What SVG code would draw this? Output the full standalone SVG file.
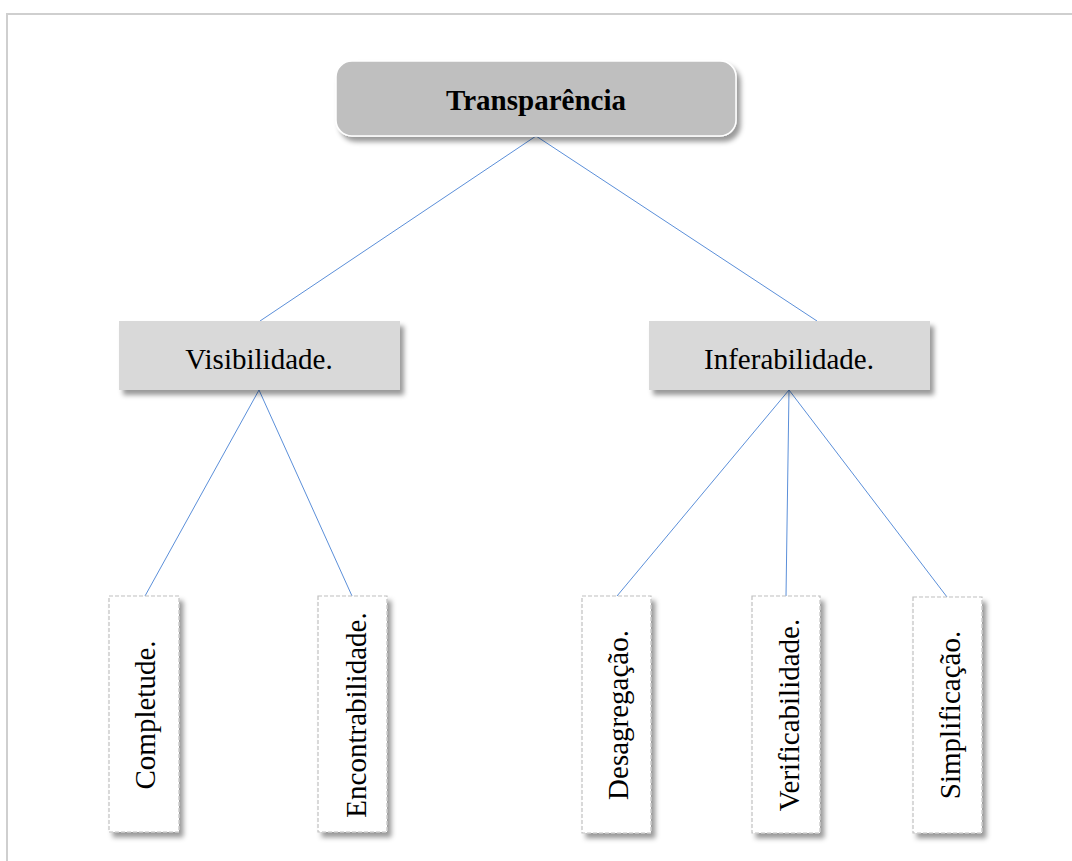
<svg xmlns="http://www.w3.org/2000/svg" width="1072" height="861" viewBox="0 0 1072 861">
<defs>
<filter id="sh" x="-20%" y="-20%" width="140%" height="140%">
<feDropShadow dx="4" dy="5" stdDeviation="2.5" flood-color="#000" flood-opacity="0.4"/>
</filter>
<style>
.t{font-family:"Liberation Serif","Times New Roman",serif;font-size:29px;fill:#000;text-anchor:middle}
.b{font-weight:bold}
.mid{fill:#d9d9d9;filter:url(#sh)}
.leaf{fill:#fff;stroke:#c0c0c0;stroke-width:1.2;stroke-dasharray:4 2;filter:url(#sh)}
.c{stroke:#5b8fd9;stroke-width:1;fill:none}
</style>
</defs>
<rect width="1072" height="861" fill="#fff"/>
<rect x="7" y="14" width="1080" height="870" fill="none" stroke="#cfcfcf" stroke-width="2"/>
<g id="connectors">
<line class="c" x1="536" y1="136" x2="260" y2="321"/>
<line class="c" x1="536" y1="136" x2="817" y2="321"/>
<line class="c" x1="259" y1="390" x2="145" y2="596"/>
<line class="c" x1="259" y1="390" x2="352" y2="596"/>
<line class="c" x1="789" y1="390" x2="617" y2="596"/>
<line class="c" x1="789" y1="390" x2="786" y2="596"/>
<line class="c" x1="789" y1="390" x2="947" y2="597"/>
</g>
<g id="transparencia">
<rect x="336" y="61" width="400" height="75" rx="16" fill="#bfbfbf" stroke="#fff" stroke-width="1.5" filter="url(#sh)"/>
<text class="t b" x="536" y="110">Transparência</text>
</g>
<g id="visibilidade">
<rect class="mid" x="119" y="321" width="281" height="69"/>
<text class="t" x="259" y="369">Visibilidade.</text>
</g>
<g id="inferabilidade">
<rect class="mid" x="649" y="321" width="281" height="69"/>
<text class="t" x="789" y="369">Inferabilidade.</text>
</g>
<g id="completude">
<rect class="leaf" x="109" y="596" width="70" height="236"/>
<text class="t" transform="translate(155 715) rotate(-90)">Completude.</text>
</g>
<g id="encontrabilidade">
<rect class="leaf" x="318" y="596" width="69" height="236"/>
<text class="t" transform="translate(366 715) rotate(-90)">Encontrabilidade.</text>
</g>
<g id="desagregacao">
<rect class="leaf" x="582" y="596" width="69" height="237"/>
<text class="t" transform="translate(628 715) rotate(-90)">Desagregação.</text>
</g>
<g id="verificabilidade">
<rect class="leaf" x="752" y="596" width="68" height="237"/>
<text class="t" transform="translate(799 715) rotate(-90)">Verificabilidade.</text>
</g>
<g id="simplificacao">
<rect class="leaf" x="913" y="597" width="69" height="236"/>
<text class="t" transform="translate(960 715) rotate(-90)">Simplificação.</text>
</g>
</svg>
